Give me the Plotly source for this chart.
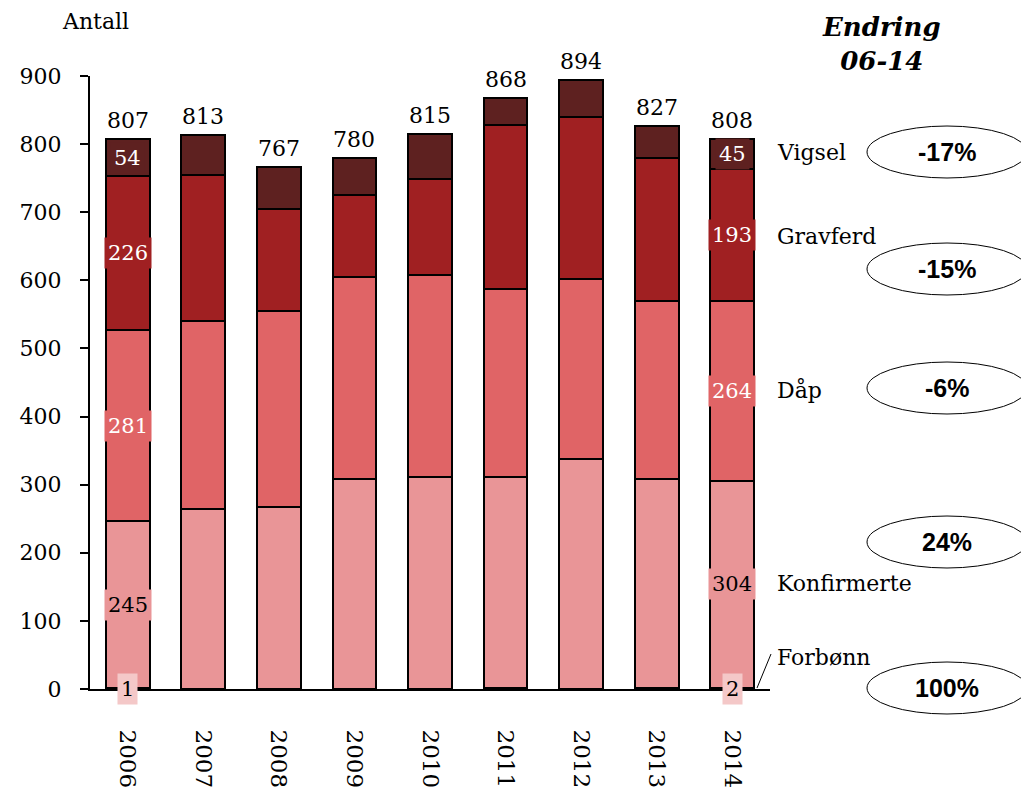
import plotly.graph_objects as go

years = ["2006", "2007", "2008", "2009", "2010", "2011", "2012", "2013", "2014"]
forbonn = [1, 0, 0, 0, 0, 2, 0, 2, 2]
konfirmerte = [245, 264, 267, 309, 311, 309, 337, 307, 304]
dap = [281, 276, 288, 296, 297, 276, 265, 261, 264]
gravferd = [226, 215, 150, 120, 141, 241, 238, 209, 193]
vigsel = [54, 58, 62, 55, 66, 40, 54, 48, 45]
totals = [807, 813, 767, 780, 815, 868, 894, 827, 808]

series_names = ["Forbønn", "Konfirmerte", "Dåp", "Gravferd", "Vigsel"]
series_vals = [forbonn, konfirmerte, dap, gravferd, vigsel]
colors = ["#F4C8C8", "#E99597", "#E06466", "#A02022", "#5E2120"]
label_font_colors = ["black", "black", "white", "white", "white"]

SERIF = "DejaVu Serif"

fig = go.Figure()
for name, vals, col in zip(series_names, series_vals, colors):
    fig.add_trace(go.Bar(
        x=years, y=vals, name=name,
        marker=dict(color=col, line=dict(color="black", width=2)),
        showlegend=False,
    ))

annotations = []
# totals above bars
for i, t in enumerate(totals):
    annotations.append(dict(x=i, y=t, text=str(t), showarrow=False,
                            yanchor="bottom", yshift=4,
                            font=dict(family=SERIF, size=22, color="black")))

# segment labels for first and last year
for idx in (0, len(years) - 1):
    base = 0
    for s, vals in enumerate(series_vals):
        v = vals[idx]
        ypos = 0 if s == 0 else base + v / 2
        annotations.append(dict(x=idx, y=ypos, text=str(v), showarrow=False,
                                bgcolor=colors[s], borderpad=3,
                                font=dict(family=SERIF, size=21, color=label_font_colors[s])))
        base += v

# page offset (body margin 8px)
OFF = 8
PL, PR, PT, PB = 90, 770, 76, 689


def px_to_paper_x(px):
    return (px - PL) / float(PR - PL)


def px_to_paper_y(py):
    return (PB - py) / float(PB - PT)


name_pos = {"Vigsel": 152, "Gravferd": 236, "Dåp": 390, "Konfirmerte": 583, "Forbønn": 657}
for n, py in name_pos.items():
    annotations.append(dict(xref="paper", yref="paper", x=px_to_paper_x(775), y=px_to_paper_y(py),
                            xanchor="left", yanchor="middle", text=n, showarrow=False,
                            font=dict(family=SERIF, size=22, color="black")))

ellipse_pos = {"-17%": 152, "-15%": 269, "-6%": 388, "24%": 542, "100%": 688}
shapes = []
for txt, py in ellipse_pos.items():
    shapes.append(dict(type="circle", xref="paper", yref="paper",
                       x0=px_to_paper_x(867), x1=px_to_paper_x(1027),
                       y0=px_to_paper_y(py - 26), y1=px_to_paper_y(py + 26),
                       line=dict(color="black", width=1), fillcolor="rgba(0,0,0,0)"))
    annotations.append(dict(xref="paper", yref="paper", x=px_to_paper_x(947), y=px_to_paper_y(py),
                            text="<b>%s</b>" % txt, showarrow=False, xanchor="center", yanchor="middle",
                            font=dict(family="Liberation Sans", size=25, color="black")))

shapes.append(dict(type="line", xref="paper", yref="paper",
                   x0=px_to_paper_x(757), y0=px_to_paper_y(688),
                   x1=px_to_paper_x(771), y1=px_to_paper_y(654),
                   line=dict(color="black", width=1)))

annotations.append(dict(xref="paper", yref="paper", x=px_to_paper_x(60), y=px_to_paper_y(22),
                        xanchor="left", yanchor="middle", text="Antall", showarrow=False,
                        font=dict(family=SERIF, size=22, color="black")))
annotations.append(dict(xref="paper", yref="paper", x=px_to_paper_x(881), y=px_to_paper_y(44),
                        xanchor="center", yanchor="middle", text="<b><i>Endring<br>06-14</i></b>",
                        showarrow=False,
                        font=dict(family=SERIF, size=26, color="black")))

W, H = 1029 - OFF, 790 - OFF
fig.update_layout(
    barmode="stack",
    bargap=0.42,
    width=W, height=H,
    margin=dict(l=PL - OFF, r=W - (PR - OFF), t=PT - OFF, b=H - (PB - OFF), autoexpand=False),
    plot_bgcolor="white", paper_bgcolor="white",
    annotations=annotations,
    shapes=shapes,
    xaxis=dict(type="category", range=[-0.5, 8.5], showline=True, linecolor="black", linewidth=2,
               ticks="", tickangle=90, ticklabelstandoff=34, automargin=False,
               tickfont=dict(family=SERIF, size=23, color="black"), showgrid=False),
    yaxis=dict(range=[0, 900], dtick=100, showline=True, linecolor="black", linewidth=2,
               ticks="outside", ticklen=8, tickcolor="black", tickwidth=2, automargin=False,
               ticklabelstandoff=14, showgrid=False, zeroline=False,
               tickfont=dict(family=SERIF, size=22, color="black")),
)

fig.write_html("out.html")
